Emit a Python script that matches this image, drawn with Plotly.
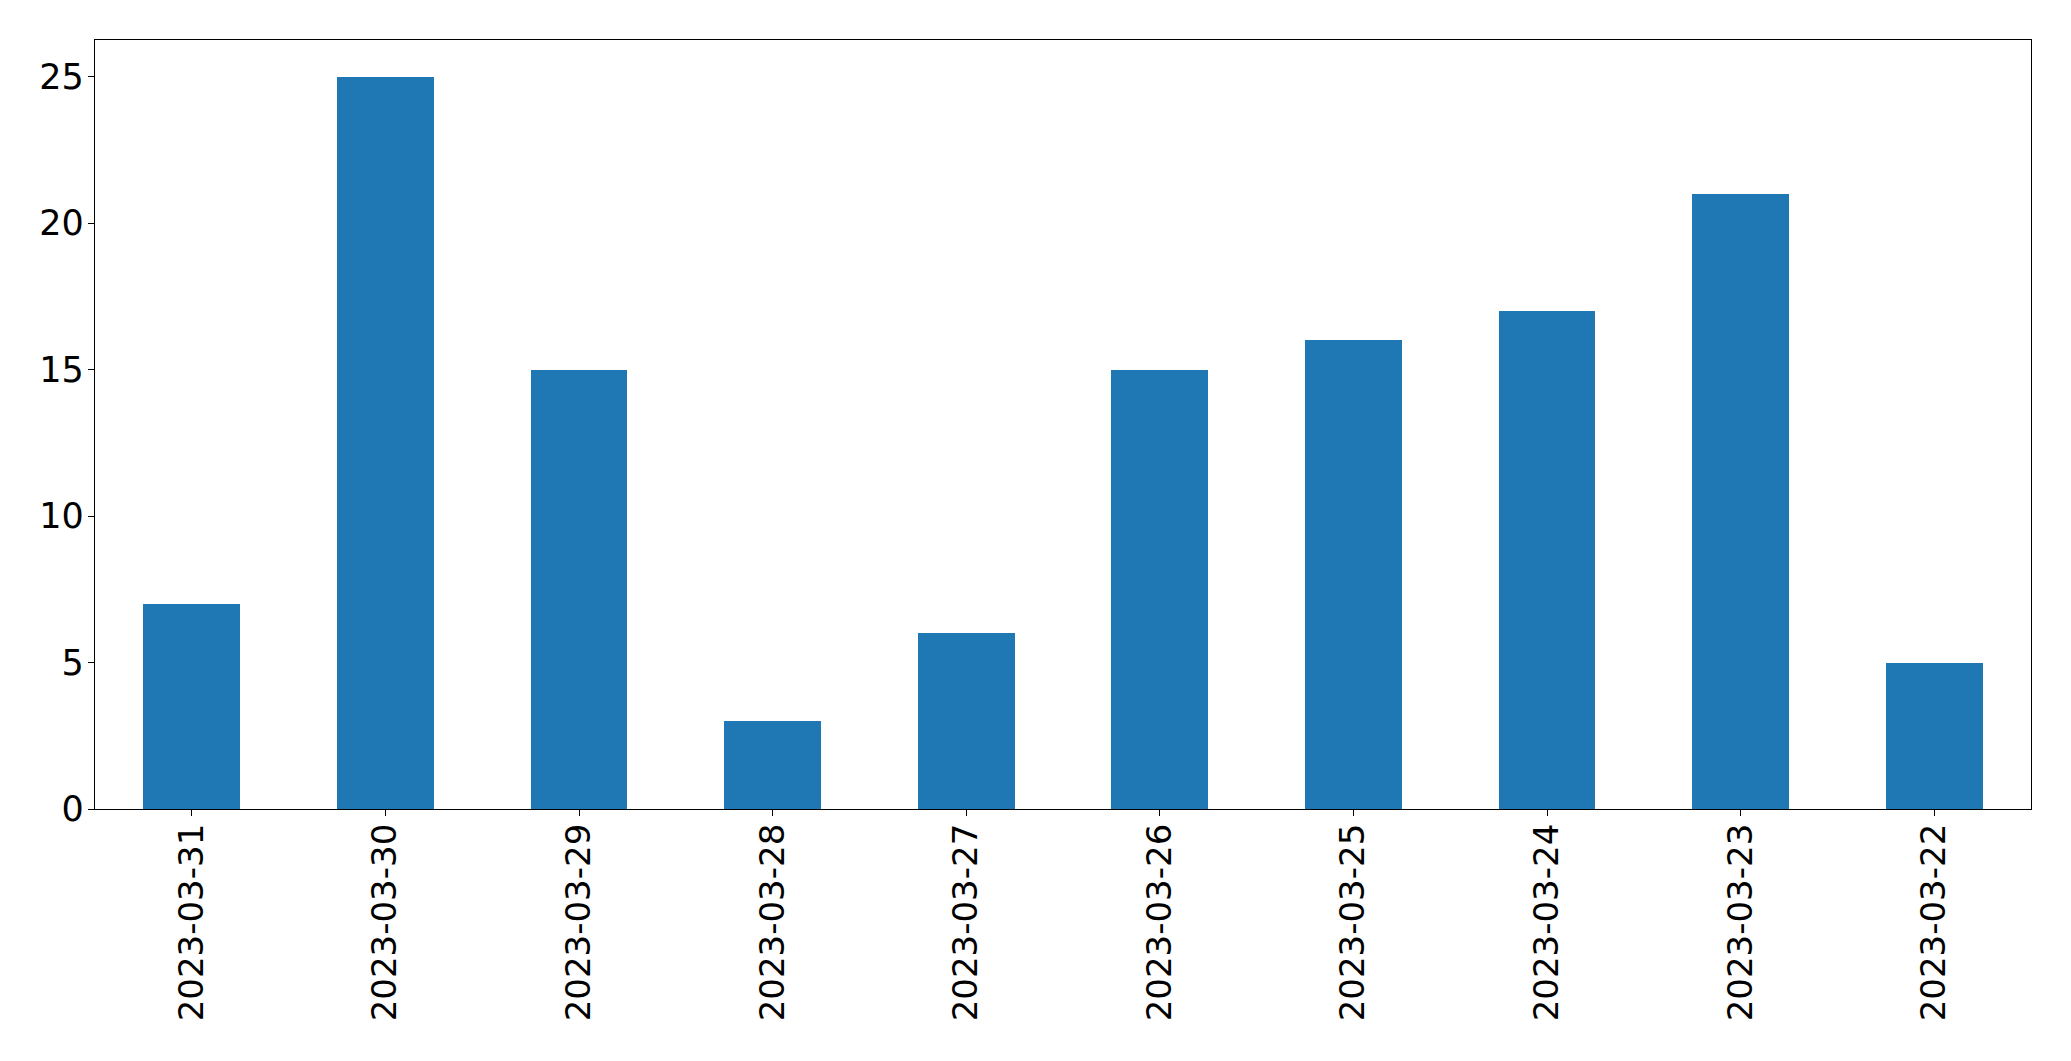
import plotly.graph_objects as go

dates = ["2023-03-31", "2023-03-30", "2023-03-29", "2023-03-28", "2023-03-27",
         "2023-03-26", "2023-03-25", "2023-03-24", "2023-03-23", "2023-03-22"]
counts = [7, 25, 15, 3, 6, 15, 16, 17, 21, 5]
y_ticks = [0, 5, 10, 15, 20, 25]

fig = go.Figure(go.Bar(x=dates, y=counts, width=0.5, marker=dict(color="#1f77b4", line=dict(width=0))))

fig.update_layout(
    width=2071, height=1061,
    margin=dict(l=94.5, r=39.5, t=39.5, b=252, pad=0),
    paper_bgcolor="white", plot_bgcolor="white",
    font=dict(family="DejaVu Sans", size=35, color="black"),
    showlegend=False,
    bargap=0,
)
fig.update_xaxes(
    type="category", range=[-0.5, 9.5], tickangle=-90,
    tickfont=dict(size=34),
    showline=True, linecolor="black", linewidth=1.3, mirror=True,
    ticks="outside", ticklen=6, tickwidth=1.3, tickcolor="black",
    showgrid=False, zeroline=False, automargin=False,
    ticklabelstandoff=-6,
)
fig.update_yaxes(
    range=[0, 26.25], tickvals=y_ticks,
    showline=True, linecolor="black", linewidth=1.3, mirror=True,
    ticks="outside", ticklen=6, tickwidth=1.3, tickcolor="black",
    showgrid=False, zeroline=False, automargin=False,
    ticklabelstandoff=-3,
)
fig.write_html("out.html")
